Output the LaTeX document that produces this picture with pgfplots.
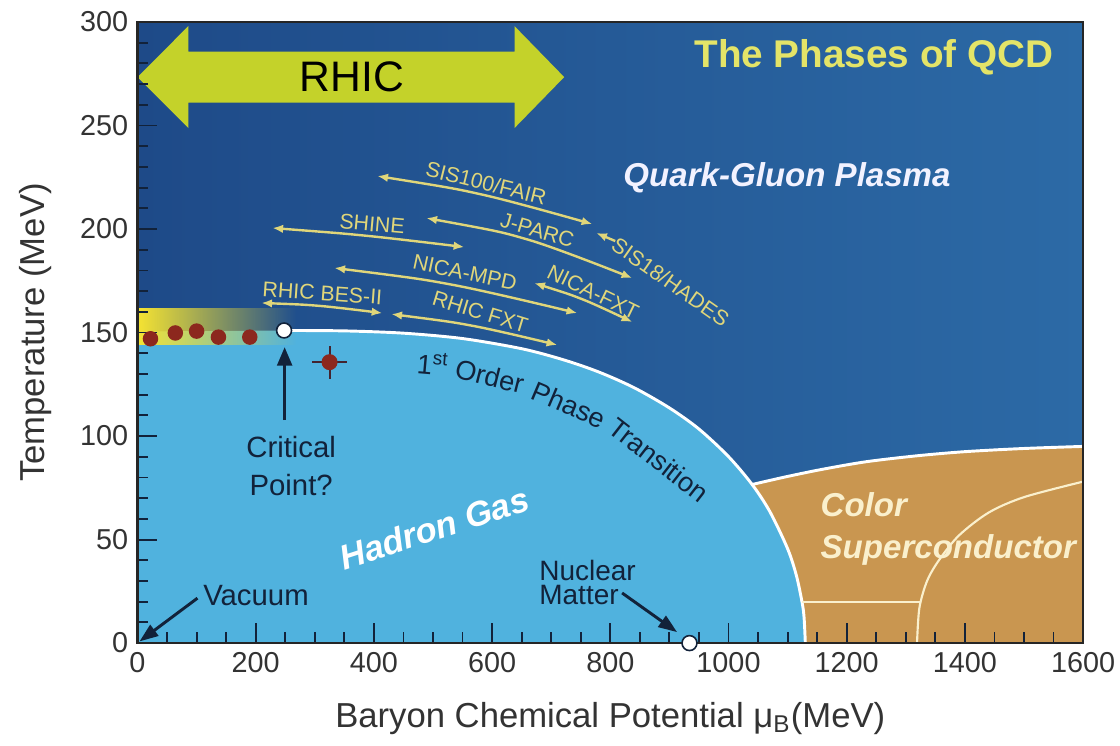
\documentclass[border=0pt]{standalone}
\usepackage{pgfplots}
\pgfplotsset{compat=1.18}
\usepackage{fontspec}
\setmainfont{Liberation Sans}
\usetikzlibrary{arrows.meta,fadings}

\definecolor{qgpL}{RGB}{30,74,136}
\definecolor{qgpR}{RGB}{44,106,166}
\definecolor{hadron}{RGB}{80,178,222}
\definecolor{csc}{RGB}{201,150,80}
\definecolor{rhic}{RGB}{196,210,42}
\definecolor{titley}{RGB}{228,228,104}
\definecolor{fac}{RGB}{224,214,122}
\definecolor{dotred}{RGB}{140,40,30}
\definecolor{navy}{RGB}{18,34,58}
\definecolor{cream}{RGB}{250,240,205}
\definecolor{band}{RGB}{246,228,50}

\newcommand{\fs}[1]{\fontsize{#1}{#1}\selectfont}

\begin{document}
\begin{tikzpicture}
\path[use as bounding box] (-51.56pt,-38.27pt) rectangle (368.44pt,241.15pt);
\begin{axis}[
  scale only axis, width=354.6pt, height=232.9pt,
  xmin=0, xmax=1600, ymin=0, ymax=300,
  clip=false,
  axis background/.style={left color=qgpL, right color=qgpR},
  xtick={0,200,...,1600}, ytick={0,50,...,300},
  minor x tick num=3, minor y tick num=4,
  tick pos=left, tick align=inside,
  major tick length=7.5pt, minor tick length=4pt,
  tick style={navy, line width=0.7pt},
  axis line style={black!85, line width=0.8pt},
  axis on top,
  ticklabel style={font=\fs{10.8}, text=black!80},
  /pgf/number format/assume math mode=true,
  /pgf/number format/1000 sep={},
  xlabel={Baryon Chemical Potential μ\textsubscript{B}(MeV)},
  ylabel={Temperature (MeV)},
  label style={font=\fs{13}, text=black!80},
  xlabel style={at={(axis description cs:0.5,-0.121)}, anchor=center},
  ylabel style={at={(axis description cs:-0.108,0.5)}, anchor=center},
]
% colour superconductor region
\addplot[fill=csc, draw=none] coordinates {(1000,0)(1000,76.6)(1040,76.6)(1100,80.5)(1160,84)(1233,87.6)(1320,90.5)(1402,92.5)(1500,94)(1600,95)(1600,0)};
% hadron gas region
\addplot[fill=hadron, draw=none] coordinates {(0,0)(0,150.5)(250,151)(350,150.8)(450,149.7)(550,147.1)(650,142.2)(720,136.9)(780,131)(840,123.4)(900,113.6)(950,103.4)(1000,90.1)(1040,76.6)(1070,63.5)(1100,45.6)(1115,32.5)(1125,18.9)(1128,11.9)(1130,0)};
% yellow band
\addplot[fill=band, draw=none, path fading=east] coordinates {(0,144)(268,144)(268,162)(0,162)};
% boundaries
\addplot[white, line width=1.1pt, smooth] coordinates {(250,151)(350,150.8)(450,149.7)(550,147.1)(650,142.2)(720,136.9)(780,131)(840,123.4)(900,113.6)(950,103.4)(1000,90.1)(1040,76.6)(1070,63.5)(1100,45.6)(1115,32.5)(1125,18.9)(1128,11.9)(1130,0)};
\addplot[white, line width=1.1pt, smooth] coordinates {(1040,76.6)(1100,80.5)(1160,84)(1233,87.6)(1320,90.5)(1402,92.5)(1500,94)(1600,95)};
\addplot[cream, line width=0.8pt] coordinates {(1125,20)(1325,20)};
\addplot[cream, line width=0.8pt, smooth] coordinates {(1319,0)(1323,17)(1336,30)(1356,40)(1390,52)(1440,63)(1500,70.5)(1600,78)};

% facility arrows
\pgfplotsset{fa/.style={fac, line width=0.9pt, smooth, {Latex[length=4pt,width=3.2pt]}-{Latex[length=4pt,width=3.2pt]}}}
\addplot[fa] coordinates {(405.9,225.6)(586.8,216.4)(769.5,202.4)};
\addplot[fa] coordinates {(228.3,200.5)(392.4,196.6)(553,191.3)};
\addplot[fa] coordinates {(488.8,205.3)(662.9,194.7)(837.1,176.3)};
\addplot[fac, line width=0.9pt, {Latex[length=4pt,width=3.2pt]}-] coordinates {(776.3,198.1)(808.4,194.2)};
\addplot[fa] coordinates {(333.2,181.2)(536.1,172.9)(744.1,159.4)};
\addplot[fa] coordinates {(671.4,173.9)(756,165.7)(837.1,155.1)};
\addplot[fa] coordinates {(209.7,164.3)(311.2,162.8)(414.3,159.4)};
\addplot[fa] coordinates {(429.6,158.9)(569.9,153.1)(710.3,144.0)};

\node[fac, font=\fs{8}, rotate=-14] at (590,222.2) {SIS100/FAIR};
\node[fac, font=\fs{8}, rotate=-5] at (397,202.4) {SHINE};
\node[fac, font=\fs{8}, rotate=-16] at (676.5,199.5) {J-PARC};
\node[fac, font=\fs{8}, rotate=-35] at (902,174.5) {SIS18/HADES};
\node[fac, font=\fs{8}, rotate=-12] at (554,179) {NICA-MPD};
\node[fac, font=\fs{8}, rotate=-26] at (771,169.5) {NICA-FXT};
\node[fac, font=\fs{8}, rotate=-4] at (312.9,169.1) {RHIC BES-II};
\node[fac, font=\fs{8}, rotate=-17] at (580,159.9) {RHIC FXT};

% data points
\addplot[only marks, mark=*, mark size=2.7pt, color=dotred] coordinates {(22,147)(64,149.8)(100,150.7)(137,147.8)(190,147.8)};
\addplot[only marks, mark=*, mark size=2.8pt, color=dotred,
  error bars/.cd, x dir=both, x explicit, y dir=both, y explicit, error mark=none,
  error bar style={navy!60!dotred, line width=0.8pt}] coordinates {(325,135.7) +- (29,8)};
\addplot[only marks, mark=*, mark size=2.8pt, mark options={fill=white, draw=navy, line width=0.6pt}] coordinates {(248,151)(934,0)};

% black arrows
\addplot[navy, line width=1.3pt, -{Triangle[length=7pt,width=5.5pt]}] coordinates {(249,107.7)(249,143)};
\addplot[navy, line width=1.1pt, -{Triangle[length=7pt,width=5pt]}] coordinates {(101.5,21.7)(3.4,0.8)};
\addplot[navy, line width=1.1pt, -{Triangle[length=7pt,width=5pt]}] coordinates {(820,24.2)(913,5.3)};

% texts
\node[navy, font=\fs{11}] at (260,94.7) {Critical};
\node[navy, font=\fs{11}] at (260,76.3) {Point?};
\node[navy, font=\fs{11}] at (200.5,23.2) {Vacuum};
\node[navy, font=\fs{10.5}, anchor=west] at (664,35.3) {Nuclear};
\node[navy, font=\fs{10.5}, anchor=west] at (664,23.2) {Matter};

\node[white, font=\bfseries\itshape\fs{13}, rotate=18] at (502,55.6) {Hadron Gas};
\node[white!95!blue, font=\bfseries\itshape\fs{12.4}] at (1099,224.6) {Quark-Gluon Plasma};
\node[titley, font=\bfseries\fs{14.5}] at (1246,283) {The Phases of QCD};
\node[cream, font=\bfseries\itshape\fs{12.4}, anchor=west] at (1140,66.7) {Color};
\node[cream, font=\bfseries\itshape\fs{12.4}, anchor=west] at (1140,45) {Superconductor};

\node[navy, font=\fs{10.2}, rotate=-5] at (500,135) {1\textsuperscript{st}};
\node[navy, font=\fs{10.2}, rotate=-14] at (596,129) {Order};
\node[navy, font=\fs{10.2}, rotate=-23] at (730,115) {Phase};
\node[navy, font=\fs{10.2}, rotate=-38] at (882,88.5) {Transition};

% RHIC arrow
\addplot[fill=rhic, draw=none] coordinates {(0,273.4)(86,298)(86,285.7)(638,285.7)(638,298)(722,273.4)(638,248.8)(638,261.1)(86,261.1)(86,248.8)};
\node[black, font=\fs{16}] at (363,273.4) {RHIC};
\end{axis}
\end{tikzpicture}
\end{document}
